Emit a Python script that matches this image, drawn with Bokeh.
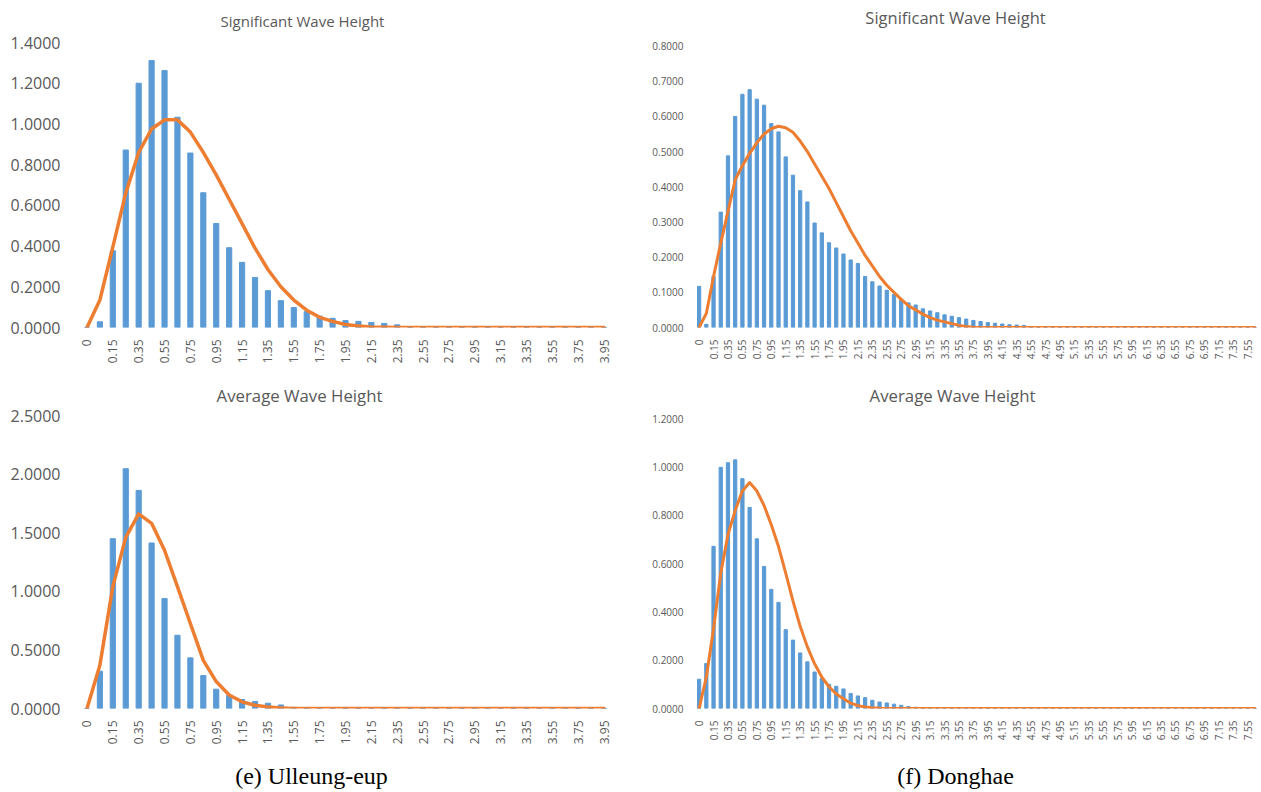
from bokeh.plotting import figure
from bokeh.models import (Range1d, LinearAxis, FixedTicker, NumeralTickFormatter,
                          Label, ColumnDataSource)
from bokeh.layouts import column, row
from bokeh.embed import file_html
from bokeh.resources import INLINE
import math

# ---------------- data ----------------
cats_left = ["0", "0.05", "0.15", "0.25", "0.35", "0.45", "0.55", "0.65", "0.75", "0.85",
             "0.95", "1.05", "1.15", "1.25", "1.35", "1.45", "1.55", "1.65", "1.75", "1.85",
             "1.95", "2.05", "2.15", "2.25", "2.35", "2.45", "2.55", "2.65", "2.75", "2.85",
             "2.95", "3.05", "3.15", "3.25", "3.35", "3.45", "3.55", "3.65", "3.75", "3.85",
             "3.95"]
cats_right = cats_left + ["4.05", "4.15", "4.25", "4.35", "4.45", "4.55", "4.65", "4.75",
                          "4.85", "4.95", "5.05", "5.15", "5.25", "5.35", "5.45", "5.55",
                          "5.65", "5.75", "5.85", "5.95", "6.05", "6.15", "6.25", "6.35",
                          "6.45", "6.55", "6.65", "6.75", "6.85", "6.95", "7.05", "7.15",
                          "7.25", "7.35", "7.45", "7.55", "7.65"]

# (e) Ulleung-eup, significant wave height
ul_sig_obs = [0, 0.028, 0.377, 0.872, 1.200, 1.311, 1.262, 1.033, 0.857, 0.662,
              0.511, 0.392, 0.320, 0.246, 0.181, 0.132, 0.098, 0.078, 0.056, 0.045,
              0.034, 0.030, 0.025, 0.020, 0.013]
ul_sig_fit = [0, 0.135, 0.395, 0.66, 0.86, 0.975, 1.02, 1.02, 0.96, 0.86,
              0.75, 0.63, 0.51, 0.39, 0.285, 0.20, 0.135, 0.085, 0.05, 0.03,
              0.015, 0.007, 0.003, 0.001]
# (e) Ulleung-eup, average wave height
ul_avg_obs = [0, 0.318, 1.449, 2.046, 1.861, 1.412, 0.938, 0.625, 0.432, 0.281,
              0.165, 0.113, 0.077, 0.060, 0.045, 0.030, 0.010]
ul_avg_fit = [0, 0.37, 1.04, 1.46, 1.66, 1.58, 1.35, 1.04, 0.725, 0.41,
              0.23, 0.115, 0.057, 0.028, 0.012, 0.005]
# (f) Donghae, significant wave height
dh_sig_obs = [0.117, 0.009, 0.145, 0.328, 0.488, 0.600, 0.663, 0.676, 0.649, 0.632,
              0.580, 0.556, 0.485, 0.433, 0.389, 0.357, 0.297, 0.269, 0.241, 0.226,
              0.209, 0.192, 0.182, 0.145, 0.130, 0.118, 0.106, 0.094, 0.080, 0.070,
              0.064, 0.053, 0.047, 0.042, 0.036, 0.032, 0.028, 0.024, 0.020, 0.017,
              0.014, 0.012, 0.010, 0.008, 0.007, 0.006]
dh_sig_fit = [0, 0.04, 0.145, 0.24, 0.33, 0.42, 0.46, 0.495, 0.525, 0.55,
              0.565, 0.572, 0.568, 0.555, 0.53, 0.50, 0.465, 0.43, 0.395, 0.355,
              0.315, 0.275, 0.24, 0.205, 0.175, 0.145, 0.12, 0.10, 0.08, 0.062,
              0.05, 0.038, 0.028, 0.021, 0.016, 0.011, 0.006, 0.003, 0.001]
# (f) Donghae, average wave height
dh_avg_obs = [0.121, 0.186, 0.671, 0.998, 1.017, 1.029, 0.951, 0.832, 0.702, 0.588,
              0.493, 0.439, 0.326, 0.283, 0.230, 0.193, 0.151, 0.124, 0.100, 0.092,
              0.081, 0.062, 0.052, 0.045, 0.034, 0.027, 0.023, 0.018, 0.013, 0.008,
              0.005]
dh_avg_fit = [0, 0.13, 0.33, 0.56, 0.72, 0.82, 0.90, 0.935, 0.90, 0.84,
              0.76, 0.67, 0.56, 0.445, 0.34, 0.255, 0.185, 0.13, 0.09, 0.06,
              0.04, 0.022, 0.012, 0.006, 0.003, 0.001]

title_sig = "Significant Wave Height"
title_avg = "Average Wave Height"
caption_left = "(e) Ulleung-eup"
caption_right = "(f) Donghae"

BAR = "#5B9BD5"
LINE = "#ED7D31"
GREY = "#595959"
FONT = "Open Sans"


def pad(vals, n):
    return list(vals) + [0] * (n - len(vals))


def panel(cats, obs, fit, ymax, ystep, width, height, mb, top_px, title, tfs, tpos,
          ylab_size, xlab_size, lw, ystand, bw):
    """top_px: distance (px) from the top of the frame to the highest gridline;
    the frame is extended upward so that the title sits inside it."""
    n = len(cats)
    idx = list(range(n))
    src = ColumnDataSource(dict(x=idx, obs=pad(obs, n), fit=pad(fit, n)))
    frame_h = height - mb[3]
    y_end = ymax * frame_h / (frame_h - top_px)
    p = figure(width=width, height=height, output_backend="svg", toolbar_location=None,
               x_range=Range1d(-0.5, n - 0.5), y_range=Range1d(0, y_end),
               min_border_left=mb[0], min_border_right=mb[1],
               min_border_top=0, min_border_bottom=mb[3],
               x_axis_type=None, y_axis_type=None, title=None)
    p.outline_line_color = None
    p.background_fill_color = "white"
    p.border_fill_color = "white"

    yt = [round(i * ystep, 4) for i in range(int(round(ymax / ystep)) + 1)]
    yax = LinearAxis(ticker=FixedTicker(ticks=yt),
                     formatter=NumeralTickFormatter(format="0.0000"))
    yax.axis_line_color = None
    yax.major_tick_line_color = None
    yax.minor_tick_line_color = None
    yax.major_label_text_font = FONT
    yax.major_label_text_font_size = ylab_size
    yax.major_label_text_color = GREY
    yax.major_label_standoff = ystand
    p.add_layout(yax, "left")

    xt = list(range(0, n, 2))
    xax = LinearAxis(ticker=FixedTicker(ticks=xt),
                     major_label_overrides={i: cats[i] for i in xt})
    xax.axis_line_color = None
    xax.major_tick_line_color = None
    xax.minor_tick_line_color = None
    xax.major_label_orientation = math.pi / 2
    xax.major_label_text_font = FONT
    xax.major_label_text_font_size = xlab_size
    xax.major_label_text_color = GREY
    xax.major_label_standoff = 6
    p.add_layout(xax, "below")

    p.xgrid.visible = False
    p.ygrid.ticker = FixedTicker(ticks=yt)
    p.ygrid.grid_line_color = "#D9D9D9"
    p.ygrid.grid_line_width = 1

    p.vbar(x="x", top="obs", width=bw, color=BAR, source=src)
    p.line(x="x", y="fit", line_color=LINE, line_width=lw, source=src,
           line_join="round", line_cap="round")

    p.add_layout(Label(x=tpos[0], y=frame_h - tpos[1], x_units="screen", y_units="screen",
                       text=title, text_align="center", text_baseline="middle",
                       text_font=FONT, text_font_size=tfs, text_color=GREY))
    return p


def caption_fig(width, height, text, cx, cy):
    p = figure(width=width, height=height, output_backend="svg", toolbar_location=None,
               x_range=Range1d(0, 1), y_range=Range1d(0, 1), min_border=0,
               x_axis_type=None, y_axis_type=None, title=None)
    p.outline_line_color = None
    p.border_fill_color = "white"
    p.background_fill_color = "white"
    p.add_layout(Label(x=cx, y=height - cy, x_units="screen", y_units="screen",
                       text=text, text_align="center", text_baseline="middle",
                       text_font="Liberation Serif", text_font_size="24px",
                       text_color="black"))
    return p


tl = panel(cats_left, ul_sig_obs, ul_sig_fit, 1.4, 0.2, 630, 380, (80, 20, 0, 53), 42,
           title_sig, "15px", (222, 20), "16px", "12px", 3.5, 14, 0.4)
tr = panel(cats_right, dh_sig_obs, dh_sig_fit, 0.8, 0.1, 631, 380, (65, 3, 0, 50), 46,
           title_sig, "16.5px", (260, 20), "10px", "10px", 3, 6, 0.45)
bl = panel(cats_left, ul_avg_obs, ul_avg_fit, 2.5, 0.5, 630, 372, (80, 20, 0, 44), 35,
           title_avg, "16.8px", (219, 15), "16px", "12px", 3.5, 14, 0.4)
br = panel(cats_right, dh_avg_obs, dh_avg_fit, 1.2, 0.2, 631, 372, (65, 3, 0, 44), 38,
           title_avg, "16.8px", (257, 15), "10px", "10px", 3, 6, 0.45)
cl = caption_fig(630, 40, caption_left, 311, 23)
cr = caption_fig(631, 40, caption_right, 325, 23)

layout = column(row(tl, tr), row(bl, br), row(cl, cr))
open("out.html", "w").write(file_html(layout, INLINE))
